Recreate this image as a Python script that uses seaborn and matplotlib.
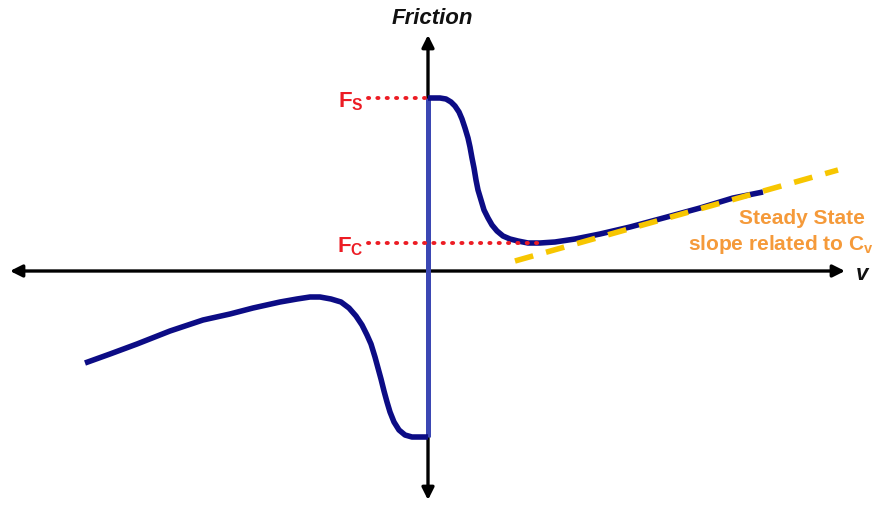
import matplotlib
matplotlib.use('Agg')
import matplotlib.pyplot as plt
import seaborn as sns
import pandas as pd

# velocity / friction (origin at the axes crossing)
pos_v = [0, 12, 18, 23, 27, 31, 34, 37, 40, 42, 44, 46, 48, 50, 53, 56, 60, 64, 69, 75,
         82, 90, 100, 112, 127, 147, 172, 202, 239, 272, 305, 335]
pos_f = [173, 173, 172, 169, 165, 159, 152, 143, 133, 124, 113, 103, 91, 81, 71, 61, 53, 46, 40, 35,
         32, 30, 28, 28, 29, 32, 37, 44, 54, 63, 73, 79]

neg_v = [0, -16, -23, -29, -34, -38, -41, -44, -47, -50, -53, -57, -61, -66, -72, -79, -87, -97,
         -108, -118, -131, -148, -175, -198, -225, -258, -291, -318, -343]
neg_f = [-166, -166, -164, -159, -151, -141, -131, -120, -108, -97, -86, -73, -64, -54, -45, -37, -31, -28,
         -26, -26, -28, -31, -37, -43, -49, -60, -73, -83, -92]

f_static = 173
f_coulomb = 28
slope_v = [87, 410]
slope_f = [10, 101]

sns.set_theme(style='white')
plt.rcParams['font.family'] = ['Liberation Sans', 'DejaVu Sans']
plt.rcParams['mathtext.fontset'] = 'custom'
plt.rcParams['mathtext.rm'] = 'Liberation Sans:bold'
plt.rcParams['mathtext.it'] = 'Liberation Sans:bold'
plt.rcParams['mathtext.bf'] = 'Liberation Sans:bold'

fig = plt.figure(figsize=(8.74, 5.12), dpi=100)
ax = fig.add_axes([0, 0, 1, 1])
ax.set_xlim(-428, 446)
ax.set_ylim(-241, 271)
ax.axis('off')

navy = '#0c0c85'
red = '#ec1c24'
orange = '#f59a3a'

# axes with arrows
arrow = dict(arrowstyle='<|-|>', color='black', lw=2.4, mutation_scale=18, shrinkA=0, shrinkB=0)
ax.annotate('', xy=(417, 0), xytext=(-418, 0), arrowprops=arrow, zorder=1)
ax.annotate('', xy=(0, 236), xytext=(0, -229), arrowprops=arrow, zorder=1)

# sticking segment at v = 0
ax.plot([0, 0], [f_static, neg_f[0]], color='#3b47b3', lw=3.6, solid_capstyle='butt', zorder=3)

pos = pd.DataFrame({'v': pos_v, 'f': pos_f})
neg = pd.DataFrame({'v': neg_v, 'f': neg_f})
sns.lineplot(data=pos, x='v', y='f', sort=False, color=navy, lw=4.0, ax=ax, zorder=4)
sns.lineplot(data=neg, x='v', y='f', sort=False, color=navy, lw=4.0, ax=ax, zorder=4)
for ln in ax.lines[-2:]:
    ln.set_solid_joinstyle('round')
    ln.set_solid_capstyle('butt')

# dotted guides for Fs and Fc
ax.plot([-60, -3], [f_static, f_static], color=red, lw=2.8, ls=(0, (0.3, 2.1)),
        dash_capstyle='round', zorder=5)
ax.plot([-60, 112], [f_coulomb, f_coulomb], color=red, lw=2.8, ls=(0, (0.3, 2.1)),
        dash_capstyle='round', zorder=5)

# steady state slope
ax.plot(slope_v, slope_f, color='#f7c600', lw=4, ls=(0, (3.4, 2.4)), zorder=6)

ax.text(4.5, 253, 'Friction', ha='center', va='center', fontsize=16,
        fontweight='bold', fontstyle='italic', color='#111111')
ax.text(434, -3, 'v', ha='center', va='center', fontsize=16,
        fontweight='bold', fontstyle='italic', color='#111111')
ax.text(-64, f_static - 4, r'$\mathrm{F_S}$', ha='right', va='center', fontsize=16, color=red)
ax.text(-64, f_coulomb - 4, r'$\mathrm{F_C}$', ha='right', va='center', fontsize=16, color=red)
ax.text(437, 52, 'Steady State', ha='right', va='center', fontsize=15,
        fontweight='bold', color=orange)
ax.text(445, 27, r'slope related to C$_\mathrm{v}$', ha='right', va='center', fontsize=15,
        fontweight='bold', color=orange)

fig.savefig('out.png', dpi=100, facecolor='white')
